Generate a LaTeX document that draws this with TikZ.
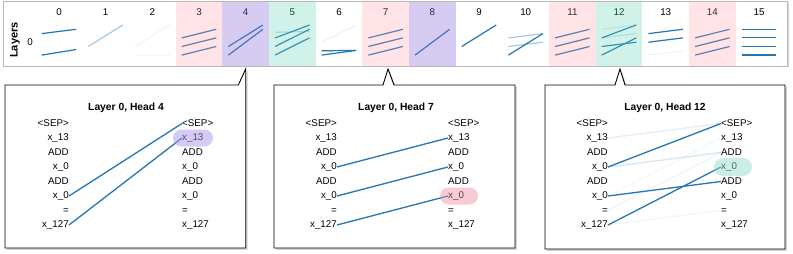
\documentclass[tikz,border=0pt]{standalone}
\usepackage{fontspec}
\setmainfont{Liberation Sans}
\usetikzlibrary{shadows,calc}
\definecolor{lblue}{HTML}{2676B3}
\definecolor{pinkov}{RGB}{255,150,160}
\definecolor{purpov}{RGB}{140,110,220}
\definecolor{tealov}{RGB}{100,215,185}
\definecolor{pillpurp}{RGB}{172,150,235}
\definecolor{pillpink}{RGB}{240,140,160}
\definecolor{pillteal}{RGB}{150,222,202}
\newcommand\cellx[1]{35.7+46.67*#1}
\newcommand\mline[4]{%
  \draw[miniline, draw opacity=#4] ({\cellx{#1}+6},{25+4.3*#2}) -- ({\cellx{#1}+40.5},{25+4.3*#3});}
\newcommand\tokcol[3]{%
  \foreach \tk [count=\i from 0] in {<SEP>,x\_13,ADD,x\_0,ADD,x\_0,=,x\_127}{%
    \node[tok, anchor=east] (#1l\i) at (#2,{123.5+14.5*\i}) {\tk};
    \node[tok, anchor=west] (#1r\i) at (#3,{123.5+14.5*\i}) {\tk};
  }}
\begin{document}
\begin{tikzpicture}[x=1pt,y=-1pt,
  miniline/.style={draw=lblue, line width=1.2pt},
  attn/.style={draw=lblue, line width=1.3pt},
  tok/.style={inner sep=0pt, text height=6.8pt, text depth=1.6pt, font=\fontsize{9.8}{11}\selectfont},
  collabel/.style={inner sep=0pt, font=\fontsize{9.8}{11}\selectfont},
  headtitle/.style={inner sep=0pt, font=\bfseries\fontsize{10.3}{12}\selectfont},
  callout/.style={draw=black, line width=0.9pt, fill=white, line join=miter,
    drop shadow={shadow xshift=1.8pt, shadow yshift=-1.8pt, opacity=0.35}},
  ovpink/.style={fill=pinkov, fill opacity=0.26},
  ovpurp/.style={fill=purpov, fill opacity=0.35},
  ovteal/.style={fill=tealov, fill opacity=0.3},
]
\useasboundingbox (0,0) rectangle (793,254);

% ---- strip ----
\path[fill=white, drop shadow={shadow xshift=1.5pt, shadow yshift=-1.5pt, opacity=0.35}] (3,1) rectangle (787,66);
\node[rotate=90, inner sep=0pt, font=\bfseries\fontsize{11}{12}\selectfont] (layers) at (15,40) {Layers};
\node[collabel] (row0) at (30,42) {0};
\foreach \c in {0,...,15}{
  \node[collabel] (c\c) at ({\cellx{\c}+23.3},12.5) {\c};
}
% mini attention patterns
\mline{0}{2}{1}{1}\mline{0}{7}{5.7}{1}
\mline{1}{5}{0}{0.4}
\mline{2}{5}{0}{0.07}\mline{2}{7}{7}{0.04}
\mline{3}{3}{1}{1}\mline{3}{5}{3}{1}\mline{3}{7}{5}{1}
\mline{4}{5}{0}{1}\mline{4}{7}{1}{1}
\mline{5}{1.7}{1.5}{0.25}\mline{5}{3}{0}{1}\mline{5}{5}{1}{1}\mline{5}{7}{3}{1}
\mline{6}{4}{0}{0.08}\mline{6}{6}{5.9}{1}\mline{6}{7}{5.9}{1}
\mline{7}{3}{1}{1}\mline{7}{5}{3}{1}\mline{7}{7}{5}{1}
\mline{8}{7}{1}{1}
\mline{9}{5}{0}{1}
\mline{10}{3}{2}{0.4}\mline{10}{5}{4}{0.4}\mline{10}{7}{2}{1}
\mline{11}{3}{1}{1}\mline{11}{5}{3}{1}\mline{11}{7}{5}{1}
\mline{12}{1}{0}{0.15}\mline{12}{3}{2}{0.2}\mline{12}{3}{0}{1}\mline{12}{5}{4}{1}\mline{12}{7}{3}{1}
\mline{13}{2}{1}{1}\mline{13}{4}{3}{1}\mline{13}{7}{6}{0.07}
\mline{14}{3}{1}{1}\mline{14}{5}{3}{1}\mline{14}{7}{5}{1}
\mline{15}{1}{1}{1}\mline{15}{3}{3}{1}\mline{15}{5}{5}{1}\mline{15}{7}{7}{1}
% highlighted columns
\foreach \c/\st in {3/ovpink,7/ovpink,11/ovpink,14/ovpink,4/ovpurp,8/ovpurp,5/ovteal,12/ovteal}{
  \fill[\st] ({\cellx{\c}},1) rectangle ({\cellx{\c}+46.67},66);
}
\draw[gray!55, line width=0.6pt] (3,1) rectangle (787,66);

% ---- callouts ----
\draw[callout] (5,85) -- (238.3,85) -- (245.7,69) -- (245.7,248) -- (5,248) -- cycle;
\draw[callout] (274,85) -- (383,85) -- (388,69) -- (394,85) -- (515,85) -- (515,248) -- (274,248) -- cycle;
\draw[callout] (545,85) -- (615,85) -- (620,69) -- (625,85) -- (785,85) -- (785,249) -- (545,249) -- cycle;

\node[headtitle] (t1) at (126,107.5) {Layer 0, Head 4};
\node[headtitle] (t2) at (396,107.5) {Layer 0, Head 7};
\node[headtitle] (t3) at (665,107.5) {Layer 0, Head 12};

\tokcol{a}{69}{182}
\tokcol{b}{337}{448}
\tokcol{c}{608}{721}

% head 4
\draw[attn] (al5.east) -- (ar0.west);
\draw[attn] (al7.east) -- (ar1.west);
% head 7
\draw[attn] (bl3.east) -- (br1.west);
\draw[attn] (bl5.east) -- (br3.west);
\draw[attn] (bl7.east) -- (br5.west);
% head 12
\draw[attn, draw opacity=0.13] (cl1.east) -- (cr0.west);
\draw[attn, draw opacity=0.18] (cl3.east) -- (cr2.west);
\draw[attn, draw opacity=0.07] (cl6.east) -- (cr2.west);
\draw[attn, draw opacity=0.05] (cl5.east) -- (cr1.west);
\draw[attn, draw opacity=0.07] (cl7.east) -- (cr6.west);
\draw[attn] (cl3.east) -- (cr0.west);
\draw[attn] (cl5.east) -- (cr4.west);
\draw[attn] (cl7.east) -- (cr3.west);

% highlight pills
\fill[pillpurp, fill opacity=0.5, rounded corners=8.5pt] ($(ar1.west)+(-9,-8.5)$) rectangle ($(ar1.west)+(31,8.5)$);
\fill[pillpink, fill opacity=0.45, rounded corners=8.5pt] ($(br5.west)+(-8,-8.5)$) rectangle ($(br5.west)+(30,8.5)$);
\fill[pillteal, fill opacity=0.5, rounded corners=9pt] ($(cr3.west)+(-7,-9)$) rectangle ($(cr3.west)+(31,9)$);
\end{tikzpicture}
\end{document}
